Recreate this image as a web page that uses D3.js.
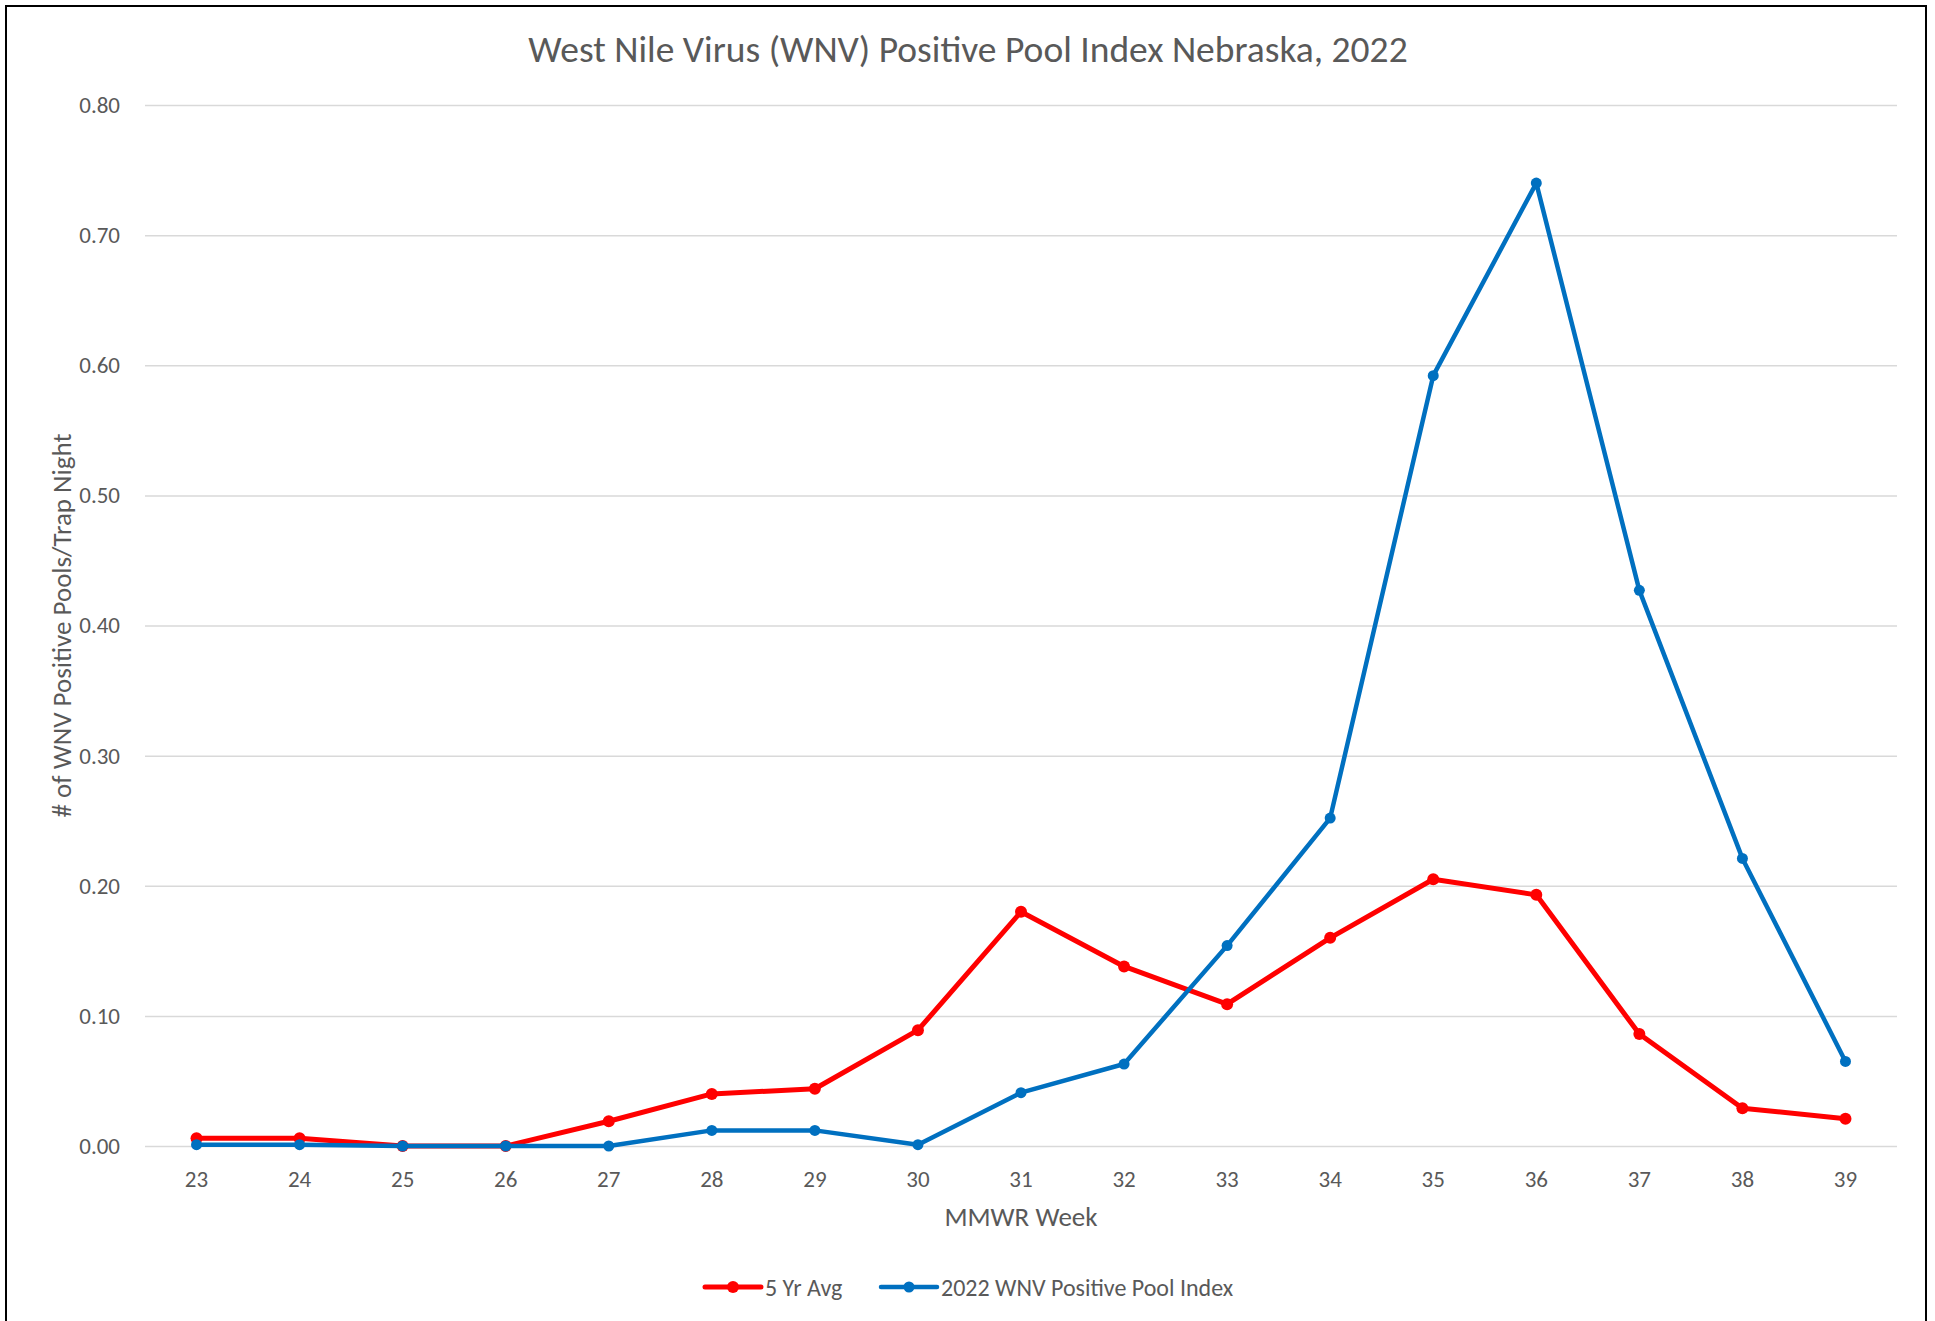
<!DOCTYPE html>
<html>
<head>
<meta charset="utf-8">
<script src="https://cdn.jsdelivr.net/npm/d3@7"></script>
<style>
  html, body { margin: 0; padding: 0; background: #fff; }
  text { font-family: Carlito, Calibri, Lato, sans-serif; fill: #595959; }
</style>
</head>
<body>
<div id="chart"></div>
<script>
// chart data
var weeks = ["23","24","25","26","27","28","29","30","31","32","33","34","35","36","37","38","39"];
var avg5yr = [0.006,0.006,0.000,0.000,0.019,0.040,0.044,0.089,0.180,0.138,0.109,0.160,0.205,0.193,0.086,0.029,0.021];
var wnv2022 = [0.001,0.001,0.000,0.000,0.000,0.012,0.012,0.001,0.041,0.063,0.154,0.252,0.592,0.740,0.427,0.221,0.065];
var yTicks = [0,0.1,0.2,0.3,0.4,0.5,0.6,0.7,0.8];
var seriesNames = ["5 Yr Avg", "2022 WNV Positive Pool Index"];
var titleText = "West Nile Virus (WNV) Positive Pool Index Nebraska, 2022";

var svgWidth = 1935, svgHeight = 1321;
var margin = {top: 105, right: 38, bottom: 175, left: 145};
var chartWidth = svgWidth - margin.left - margin.right;
var chartHeight = svgHeight - margin.top - margin.bottom;

var svg = d3.select("#chart").append("svg")
  .attr("width", svgWidth)
  .attr("height", svgHeight);

// outer frame (bottom edge runs off the picture)
svg.append("rect")
  .attr("x", 6).attr("y", 6)
  .attr("width", 1920).attr("height", 1400)
  .attr("fill", "none")
  .attr("stroke", "#000")
  .attr("stroke-width", 2);

var chartGroup = svg.append("g")
  .attr("transform", `translate(${margin.left}, ${margin.top})`);

var xScale = d3.scaleBand().domain(weeks).range([0, chartWidth]);
var yScale = d3.scaleLinear().domain([0, 0.8]).range([chartHeight, 0]);

// gridlines + y labels
var yAxis = d3.axisLeft(yScale)
  .tickValues(yTicks)
  .tickSize(-chartWidth)
  .tickPadding(25)
  .tickFormat(d3.format(".2f"));

var yG = chartGroup.append("g").call(yAxis);
yG.select(".domain").remove();
yG.selectAll(".tick line").attr("stroke", "#d9d9d9").attr("stroke-width", 1.5);
yG.selectAll(".tick text")
  .attr("font-size", "23px")
  .attr("fill", "#595959")
  .style("font-family", "Carlito, Calibri, Lato, sans-serif");

// x labels
var xAxis = d3.axisBottom(xScale).tickSize(0).tickPadding(25);
var xG = chartGroup.append("g")
  .attr("transform", `translate(0, ${chartHeight})`)
  .call(xAxis);
xG.select(".domain").remove();
xG.selectAll(".tick text")
  .attr("font-size", "23px")
  .attr("fill", "#595959")
  .style("font-family", "Carlito, Calibri, Lato, sans-serif");

// lines
var xc = d => xScale(d) + xScale.bandwidth() / 2;
var line = d3.line()
  .x((d, i) => xc(weeks[i]))
  .y(d => yScale(d));

var series = [
  {name: seriesNames[0], values: avg5yr, color: "#ff0000", width: 5, r: 6},
  {name: seriesNames[1], values: wnv2022, color: "#0070c0", width: 4.5, r: 5.5}
];

series.forEach(s => {
  chartGroup.append("path")
    .datum(s.values)
    .attr("d", line)
    .attr("fill", "none")
    .attr("stroke", s.color)
    .attr("stroke-width", s.width)
    .attr("stroke-linejoin", "round");

  chartGroup.selectAll(null)
    .data(s.values)
    .enter()
    .append("circle")
    .attr("cx", (d, i) => xc(weeks[i]))
    .attr("cy", d => yScale(d))
    .attr("r", s.r)
    .attr("fill", s.color);
});

// title
svg.append("text")
  .attr("x", 968)
  .attr("y", 62)
  .attr("text-anchor", "middle")
  .attr("font-size", "37.5px")
  .text(titleText);

// axis titles
svg.append("text")
  .attr("transform", `translate(71, ${margin.top + chartHeight / 2}) rotate(-90)`)
  .attr("text-anchor", "middle")
  .attr("font-size", "27px")
  .text("# of WNV Positive Pools/Trap Night");

svg.append("text")
  .attr("x", margin.left + chartWidth / 2)
  .attr("y", 1226)
  .attr("text-anchor", "middle")
  .attr("font-size", "27px")
  .text("MMWR Week");

// legend
var legendX = [705, 881];
var legend = svg.selectAll(".legend")
  .data(series)
  .enter()
  .append("g")
  .attr("class", "legend")
  .attr("transform", (d, i) => `translate(${legendX[i]}, 1287)`);

legend.append("line")
  .attr("x1", 0).attr("x2", 56)
  .attr("y1", 0).attr("y2", 0)
  .attr("stroke", d => d.color)
  .attr("stroke-width", d => d.width)
  .attr("stroke-linecap", "round");

legend.append("circle")
  .attr("cx", 28).attr("cy", 0).attr("r", d => d.r)
  .attr("fill", d => d.color);

legend.append("text")
  .attr("x", 60)
  .attr("y", 9)
  .attr("font-size", "24px")
  .text(d => d.name);
</script>
</body>
</html>
